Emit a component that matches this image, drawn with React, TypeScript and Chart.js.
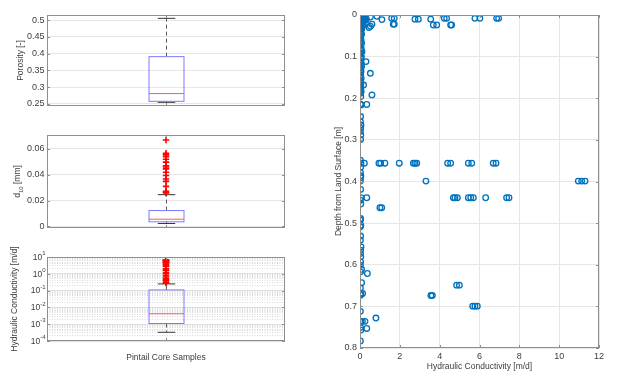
import React, { useEffect, useRef } from 'react';
import { Chart, registerables } from 'chart.js';

Chart.register(...registerables);

const W = 624;
const H = 381;
const FONT = '"Liberation Sans", Arial, Helvetica, sans-serif';
const TEXT = '#3c3c3c';
const FRAME = '#8f8f8f';
const GRID = '#e6e6e6';
const BLUE = '#0072BD';

// ---------- box-plot data: [lower whisker, q1, median, q3, upper whisker] ----------
const porosityStats = [0.255, 0.258, 0.281, 0.391, 0.505];
const porosityOutliers: number[] = [];
const porosityTicks = [0.25, 0.3, 0.35, 0.4, 0.45, 0.5];
const porosityTickLabels = ['0.25', '0.3', '0.35', '0.4', '0.45', '0.5'];

const d10Stats = [0.0023, 0.0036, 0.0056, 0.0123, 0.0246];
const d10Outliers = [0.0259, 0.0265, 0.0272, 0.031, 0.0349, 0.0367, 0.0395, 0.042, 0.0446, 0.046, 0.047, 0.0498, 0.052, 0.054, 0.0554, 0.0567, 0.0669];
const d10Ticks = [0, 0.02, 0.04, 0.06];
const d10TickLabels = ['0', '0.02', '0.04', '0.06'];
const d10TitleParts = ['d', '10', ' [mm]'];

const kStats = [0.00033, 0.0011, 0.0042, 0.11, 0.25];
const kOutliers = [0.28, 0.32, 0.4, 0.45, 0.5, 0.65, 0.8, 1.0, 1.2, 1.6, 1.7, 2.0, 2.7, 2.9, 3.5, 3.6, 4.4, 4.6, 4.9, 5.0, 5.6, 5.8, 6.0, 6.4, 6.8];
const kTickExps = [-4, -3, -2, -1, 0, 1];

// ---------- scatter data: [hydraulic conductivity m/d, depth m] ----------
const samples: [number, number][] = [
  [0.01, 0.0], [0.03, 0.002], [0.06, 0.001], [0.1, 0.003], [0.14, 0.002], [0.2, 0.004], [0.05, 0.006], [0.12, 0.007],
  [0.02, 0.009], [0.08, 0.011], [0.15, 0.013], [0.04, 0.015], [0.1, 0.017], [0.02, 0.019], [0.07, 0.021], [0.13, 0.026],
  [0.03, 0.03], [0.09, 0.033], [0.05, 0.038], [0.02, 0.042], [0.08, 0.046], [0.04, 0.05], [0.18, 0.009], [0.25, 0.012], [0.32, 0.01],
  [0.27, 0.004], [0.52, 0.005], [0.85, 0.003], [1.1, 0.011], [1.59, 0.008], [1.72, 0.008], [2.76, 0.01], [2.93, 0.01],
  [3.55, 0.01], [4.23, 0.008], [4.35, 0.008], [5.77, 0.008], [6.02, 0.008], [6.86, 0.008], [6.96, 0.008],
  [1.67, 0.022], [1.72, 0.022], [3.68, 0.024], [3.85, 0.024], [4.55, 0.024], [4.6, 0.024], [0.6, 0.022], [0.45, 0.03],
  [0.52, 0.027], [0.27, 0.02], [0.17, 0.024],
  [0.02, 0.056], [0.05, 0.06], [0.03, 0.064], [0.08, 0.068], [0.02, 0.072], [0.06, 0.08], [0.03, 0.084], [0.1, 0.088],
  [0.04, 0.092], [0.02, 0.096], [0.07, 0.1], [0.03, 0.104], [0.05, 0.108], [0.02, 0.112], [0.3, 0.112], [0.06, 0.116],
  [0.03, 0.12], [0.08, 0.124], [0.02, 0.128], [0.04, 0.132], [0.05, 0.136], [0.52, 0.14], [0.03, 0.144], [0.02, 0.148],
  [0.06, 0.152], [0.03, 0.16], [0.05, 0.164], [0.18, 0.168], [0.02, 0.172], [0.04, 0.176], [0.03, 0.18], [0.06, 0.184],
  [0.02, 0.188], [0.6, 0.192], [0.04, 0.196], [0.02, 0.214], [0.06, 0.216], [0.34, 0.215],
  [0.03, 0.244], [0.02, 0.256], [0.05, 0.264], [0.03, 0.272], [0.02, 0.28], [0.04, 0.288], [0.03, 0.299], [0.02, 0.349],
  [0.05, 0.356], [0.22, 0.356], [0.95, 0.356], [1.04, 0.356], [1.25, 0.356], [1.97, 0.356], [2.68, 0.356], [2.76, 0.356],
  [2.85, 0.356], [4.4, 0.356], [4.55, 0.356], [5.44, 0.356], [5.61, 0.356], [6.69, 0.356], [6.83, 0.356],
  [0.03, 0.366], [0.02, 0.378], [0.04, 0.386], [0.03, 0.391], [3.31, 0.399], [10.96, 0.399], [11.13, 0.399], [11.3, 0.399],
  [0.02, 0.399], [0.03, 0.419],
  [0.05, 0.439], [0.34, 0.439], [4.69, 0.439], [4.77, 0.439], [4.89, 0.439], [5.44, 0.439], [5.56, 0.439], [5.69, 0.439],
  [6.31, 0.439], [7.36, 0.439], [7.48, 0.439],
  [0.02, 0.445], [0.04, 0.454], [1.0, 0.463], [1.09, 0.463],
  [0.03, 0.489], [0.02, 0.493], [0.04, 0.505], [0.02, 0.509], [0.03, 0.531], [0.02, 0.541], [0.05, 0.557], [0.03, 0.565],
  [0.02, 0.573], [0.04, 0.581], [0.03, 0.593], [0.02, 0.601], [0.08, 0.611], [0.03, 0.617], [0.37, 0.621], [0.08, 0.643],
  [4.85, 0.649], [4.99, 0.649], [0.02, 0.656], [0.13, 0.669], [0.04, 0.669], [3.56, 0.674], [3.63, 0.674], [0.03, 0.673],
  [5.66, 0.6995], [5.77, 0.6995], [5.89, 0.6995], [0.02, 0.712], [0.8, 0.728], [0.04, 0.736], [0.12, 0.736], [0.25, 0.736],
  [0.03, 0.751], [0.34, 0.753], [0.05, 0.757], [0.02, 0.783],
];
const condTicks = [0, 2, 4, 6, 8, 10, 12];
const condTickLabels = ['0', '2', '4', '6', '8', '10', '12'];
const depthTicks = [0, 0.1, 0.2, 0.3, 0.4, 0.5, 0.6, 0.7, 0.8];
const depthTickLabels = ['0', '0.1', '0.2', '0.3', '0.4', '0.5', '0.6', '0.7', '0.8'];

// ---------- plugins ----------
function makeFramePlugin(xTicks: number[], yTicks: number[]) {
  return {
    id: 'frame',
    afterDraw(chart: any) {
      const { ctx, chartArea: a } = chart;
      const xs = chart.scales.x;
      const ys = chart.scales.y;
      ctx.save();
      ctx.strokeStyle = FRAME;
      ctx.lineWidth = 1;
      ctx.strokeRect(Math.round(a.left) + 0.5, Math.round(a.top) + 0.5, Math.round(a.right - a.left) - 1, Math.round(a.bottom - a.top) - 1);
      ctx.beginPath();
      for (const v of yTicks) {
        const y = Math.round(ys.getPixelForValue(v)) + 0.5;
        ctx.moveTo(a.left, y); ctx.lineTo(a.left + 3, y);
        ctx.moveTo(a.right, y); ctx.lineTo(a.right - 3, y);
      }
      for (const v of xTicks) {
        const x = Math.round(xs.getPixelForValue(v)) + 0.5;
        ctx.moveTo(x, a.bottom); ctx.lineTo(x, a.bottom - 3);
        ctx.moveTo(x, a.top); ctx.lineTo(x, a.top + 3);
      }
      ctx.stroke();
      ctx.restore();
    },
  };
}

function makeBoxPlugin(stats: number[], center: number, halfWidth: number) {
  return {
    id: 'boxplot',
    beforeDatasetsDraw(chart: any) {
      const { ctx } = chart;
      const xs = chart.scales.x;
      const ys = chart.scales.y;
      const [lo, q1, med, q3, hi] = stats;
      const cx = Math.round(xs.getPixelForValue(center)) + 0.5;
      const hw = Math.abs(xs.getPixelForValue(center + halfWidth) - xs.getPixelForValue(center));
      const py = (v: number) => ys.getPixelForValue(v);
      const line = (x1: number, y1: number, x2: number, y2: number) => {
        ctx.beginPath(); ctx.moveTo(x1, y1); ctx.lineTo(x2, y2); ctx.stroke();
      };
      ctx.save();
      ctx.lineWidth = 1;
      ctx.strokeStyle = '#5a5a5a';
      ctx.setLineDash([4, 3]);
      line(cx, py(q3), cx, py(hi));
      line(cx, py(q1), cx, py(lo));
      ctx.setLineDash([]);
      ctx.strokeStyle = '#333333';
      line(cx - hw / 2, py(hi), cx + hw / 2, py(hi));
      line(cx - hw / 2, py(lo), cx + hw / 2, py(lo));
      ctx.strokeStyle = '#7a7aff';
      ctx.strokeRect(cx - hw, py(q3), 2 * hw, py(q1) - py(q3));
      ctx.strokeStyle = '#ff5a5a';
      line(cx - hw, py(med), cx + hw, py(med));
      ctx.restore();
    },
  };
}

const d10TitlePlugin = {
  id: 'd10Title',
  afterDraw(chart: any) {
    const { ctx, chartArea: a } = chart;
    const cy = (a.top + a.bottom) / 2;
    const big = `8.5px ${FONT}`;
    const small = `6px ${FONT}`;
    const parts = [
      { t: d10TitleParts[0], f: big, dy: 0 },
      { t: d10TitleParts[1], f: small, dy: 3 },
      { t: d10TitleParts[2], f: big, dy: 0 },
    ];
    ctx.save();
    let total = 0;
    for (const p of parts) { ctx.font = p.f; total += ctx.measureText(p.t).width; }
    ctx.translate(18, cy);
    ctx.rotate(-Math.PI / 2);
    ctx.fillStyle = TEXT;
    ctx.textBaseline = 'middle';
    ctx.textAlign = 'left';
    let x = -total / 2;
    for (const p of parts) {
      ctx.font = p.f;
      ctx.fillText(p.t, x, p.dy);
      x += ctx.measureText(p.t).width;
    }
    ctx.restore();
  },
};

const logLabelPlugin = {
  id: 'logLabels',
  afterDraw(chart: any) {
    const { ctx, chartArea: a } = chart;
    const ys = chart.scales.y;
    const big = `8.5px ${FONT}`;
    const small = `6px ${FONT}`;
    ctx.save();
    ctx.fillStyle = TEXT;
    ctx.textBaseline = 'middle';
    ctx.textAlign = 'left';
    for (const e of kTickExps) {
      const y = ys.getPixelForValue(Math.pow(10, e));
      const sup = String(e);
      ctx.font = small;
      const ws = ctx.measureText(sup).width;
      ctx.font = big;
      const wb = ctx.measureText('10').width;
      const xEnd = a.left - 1.5;
      ctx.fillText('10', xEnd - ws - wb, y + 0.5);
      ctx.font = small;
      ctx.fillText(sup, xEnd - ws, y - 3.5);
    }
    ctx.restore();
  },
};

// ---------- layout ----------
const LEFT_L = 47;
const LEFT_R = 285;
const RIGHT_L = 360;
const RIGHT_R = 599;

function setTicks(values: number[], majorFn?: (v: number) => boolean) {
  return (scale: any) => {
    scale.ticks = values.map((v) => ({ value: v, major: majorFn ? majorFn(v) : false }));
  };
}

function boxConfig(p: any) {
  const xHeight = p.xTitle ? 22 : 4;
  const plugins: any[] = [makeBoxPlugin(p.stats, 0.5, 0.0735), makeFramePlugin([0.5], p.frameTicks)];
  if (p.extraPlugins) plugins.push(...p.extraPlugins);
  const yScale: any = {
    type: p.yType,
    min: p.yMin,
    max: p.yMax,
    afterBuildTicks: setTicks(p.gridTicks, p.majorFn),
    afterFit: (s: any) => { s.width = LEFT_L; },
    ticks: p.showTickLabels
      ? {
          display: true,
          color: TEXT,
          font: { family: FONT, size: 9 },
          padding: 2.5,
          callback: (_v: any, i: number) => p.tickLabels[i],
        }
      : { display: false },
    grid: {
      drawTicks: false,
      color: p.gridColor || GRID,
      lineWidth: 1,
    },
    border: { display: false, dash: p.gridDash || [] },
    title: p.yTitle
      ? { display: true, text: p.yTitle, color: TEXT, font: { family: FONT, size: 8.5 }, padding: { top: p.yTitlePad, bottom: 0 } }
      : { display: false },
  };
  return {
    type: 'scatter',
    data: {
      datasets: [
        {
          data: p.outliers.map((v: number) => ({ x: 0.5, y: v })),
          pointStyle: 'cross',
          radius: 3.2,
          borderColor: '#ff0000',
          borderWidth: 1.6,
          backgroundColor: '#ff0000',
          showLine: false,
        },
      ],
    },
    options: {
      animation: false,
      responsive: false,
      events: [],
      layout: { padding: { left: 0, top: p.top, right: W - LEFT_R, bottom: H - p.bottom - xHeight } },
      plugins: { legend: { display: false }, tooltip: { enabled: false } },
      scales: {
        x: {
          type: 'linear',
          min: 0,
          max: 1,
          ticks: { display: false },
          grid: { display: false },
          border: { display: false },
          afterFit: (s: any) => { s.height = xHeight; },
          title: p.xTitle
            ? { display: true, text: p.xTitle, color: TEXT, font: { family: FONT, size: 8.5 }, padding: { top: 0, bottom: 0 } }
            : { display: false },
        },
        y: yScale,
      },
    },
    plugins,
  };
}

function scatterConfig() {
  const xHeight = 24;
  return {
    type: 'scatter',
    data: {
      datasets: [
        {
          data: samples.map(([k, d]) => ({ x: k, y: d })),
          pointStyle: 'circle',
          radius: 2.8,
          borderColor: BLUE,
          borderWidth: 1.3,
          backgroundColor: 'rgba(0,0,0,0)',
          showLine: false,
        },
      ],
    },
    options: {
      animation: false,
      responsive: false,
      events: [],
      layout: { padding: { left: 300, top: 15, right: W - RIGHT_R, bottom: H - 348 - xHeight } },
      plugins: { legend: { display: false }, tooltip: { enabled: false } },
      scales: {
        x: {
          type: 'linear',
          min: 0,
          max: 12,
          afterBuildTicks: setTicks(condTicks),
          afterFit: (s: any) => { s.height = xHeight; },
          ticks: { color: TEXT, font: { family: FONT, size: 9 }, padding: 3, maxRotation: 0, autoSkip: false, callback: (_v: any, i: number) => condTickLabels[i] },
          grid: { color: GRID, drawTicks: false },
          border: { display: false },
          title: { display: true, text: 'Hydraulic Conductivity [m/d]', color: TEXT, font: { family: FONT, size: 8.5 }, padding: { top: 0, bottom: 0 } },
        },
        y: {
          type: 'linear',
          reverse: true,
          min: 0,
          max: 0.8,
          afterBuildTicks: setTicks(depthTicks),
          afterFit: (s: any) => { s.width = RIGHT_L - 300; },
          ticks: { color: TEXT, font: { family: FONT, size: 9 }, padding: 3, autoSkip: false, callback: (_v: any, i: number) => depthTickLabels[i] },
          grid: { color: GRID, drawTicks: false },
          border: { display: false },
          title: { display: true, text: 'Depth from Land Surface [m]', color: TEXT, font: { family: FONT, size: 8.5 }, padding: { top: 34, bottom: 0 } },
        },
      },
    },
    plugins: [makeFramePlugin(condTicks, depthTicks)],
  };
}

function logGridTicks(): number[] {
  const out: number[] = [];
  for (let e = kTickExps[0]; e < kTickExps[kTickExps.length - 1]; e++) {
    for (let m = 1; m < 10; m++) out.push(m * Math.pow(10, e));
  }
  out.push(Math.pow(10, kTickExps[kTickExps.length - 1]));
  return out;
}

const isPow10 = (v: number) => Math.abs(Math.log10(v) - Math.round(Math.log10(v))) < 1e-9;

export default function App() {
  const r1 = useRef<HTMLCanvasElement>(null);
  const r2 = useRef<HTMLCanvasElement>(null);
  const r3 = useRef<HTMLCanvasElement>(null);
  const r4 = useRef<HTMLCanvasElement>(null);

  useEffect(() => {
    const charts: Chart[] = [];
    charts.push(
      new Chart(r1.current as HTMLCanvasElement, boxConfig({
        top: 15, bottom: 106, yType: 'linear', yMin: 0.244, yMax: 0.515,
        gridTicks: porosityTicks, tickLabels: porosityTickLabels, showTickLabels: true, frameTicks: porosityTicks,
        stats: porosityStats, outliers: porosityOutliers, yTitle: 'Porosity [-]', yTitlePad: 16,
      }) as any)
    );
    charts.push(
      new Chart(r2.current as HTMLCanvasElement, boxConfig({
        top: 135, bottom: 228, yType: 'linear', yMin: -0.0012, yMax: 0.0708,
        gridTicks: d10Ticks, tickLabels: d10TickLabels, showTickLabels: true, frameTicks: d10Ticks,
        stats: d10Stats, outliers: d10Outliers, extraPlugins: [d10TitlePlugin],
      }) as any)
    );
    const majors = kTickExps.map((e) => Math.pow(10, e));
    charts.push(
      new Chart(r3.current as HTMLCanvasElement, boxConfig({
        top: 257, bottom: 341, yType: 'logarithmic', yMin: 1e-4, yMax: 10,
        gridTicks: logGridTicks(), majorFn: isPow10, showTickLabels: false, frameTicks: majors,
        gridColor: (ctx: any) => (ctx.tick && ctx.tick.major ? '#dedede' : '#dadada'),
        gridDash: (ctx: any) => (ctx.tick && !ctx.tick.major ? [1, 1.5] : []),
        stats: kStats, outliers: kOutliers, yTitle: 'Hydraulic Conductivity [m/d]', yTitlePad: 10,
        xTitle: 'Pintail Core Samples', extraPlugins: [logLabelPlugin],
      }) as any)
    );
    charts.push(new Chart(r4.current as HTMLCanvasElement, scatterConfig() as any));
    return () => charts.forEach((c) => c.destroy());
  }, []);

  const cs: React.CSSProperties = { position: 'absolute', left: 0, top: 0, width: W, height: H };
  return (
    <div style={{ position: 'absolute', left: 0, top: 0, width: W, height: H, background: '#ffffff' }}>
      <canvas ref={r1} width={W} height={H} style={cs} />
      <canvas ref={r2} width={W} height={H} style={cs} />
      <canvas ref={r3} width={W} height={H} style={cs} />
      <canvas ref={r4} width={W} height={H} style={cs} />
    </div>
  );
}
